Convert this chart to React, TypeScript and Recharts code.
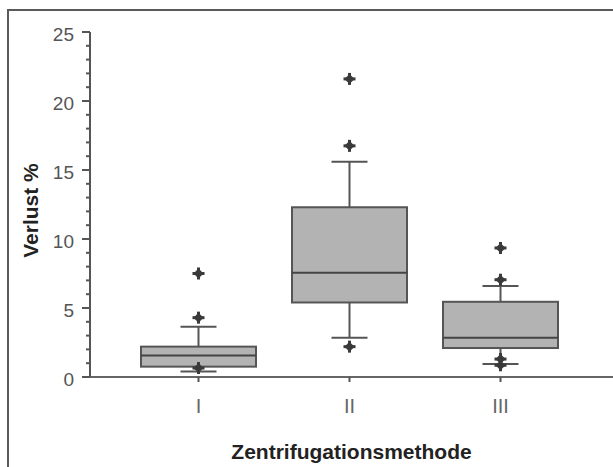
import { ComposedChart, Bar, Line, XAxis, YAxis } from "recharts";

const categories = ["I", "II", "III"];
const whiskerLow = [0.4, 2.85, 0.95];
const q1 = [0.75, 5.4, 2.1];
const median = [1.55, 7.55, 2.85];
const q3 = [2.2, 12.3, 5.45];
const whiskerHigh = [3.65, 15.6, 6.6];
const outliers = [
  [7.5, 4.3, 0.65],
  [21.6, 16.75, 2.2],
  [9.35, 7.05, 1.3, 0.85],
];
const yTicks = [0, 1, 2, 3, 4, 5, 6, 7, 8, 9, 10, 11, 12, 13, 14, 15, 16, 17, 18, 19, 20, 21, 22, 23, 24, 25];

const FONT = '"Liberation Sans", Arial, Helvetica, sans-serif';
const LINE = "#555";

const rows = categories.map((name, i) => ({
  name,
  range: [whiskerLow[i], whiskerHigh[i]],
  lo: whiskerLow[i],
  hi: whiskerHigh[i],
  q1: q1[i],
  median: median[i],
  q3: q3[i],
  o1: outliers[i][0] ?? null,
  o2: outliers[i][1] ?? null,
  o3: outliers[i][2] ?? null,
  o4: outliers[i][3] ?? null,
}));

function BoxShape(props: any) {
  const { x, y, width, height, payload } = props;
  const top = Math.min(y, y + height);
  const h = Math.abs(height);
  const span = payload.hi - payload.lo;
  const toY = (v: number) => top + ((payload.hi - v) / span) * h;
  const cx = x + width / 2;
  const cap = 18;
  return (
    <g>
      <line x1={cx} x2={cx} y1={toY(payload.hi)} y2={toY(payload.q3)} stroke={LINE} strokeWidth={2} />
      <line x1={cx} x2={cx} y1={toY(payload.q1)} y2={toY(payload.lo)} stroke={LINE} strokeWidth={2} />
      <line x1={cx - cap} x2={cx + cap} y1={toY(payload.hi)} y2={toY(payload.hi)} stroke={LINE} strokeWidth={2} />
      <line x1={cx - cap} x2={cx + cap} y1={toY(payload.lo)} y2={toY(payload.lo)} stroke={LINE} strokeWidth={2} />
      <rect
        x={x}
        y={toY(payload.q3)}
        width={width}
        height={toY(payload.q1) - toY(payload.q3)}
        fill="#b3b3b3"
        stroke={LINE}
        strokeWidth={2}
      />
      <line x1={x} x2={x + width} y1={toY(payload.median)} y2={toY(payload.median)} stroke="#444" strokeWidth={2} />
    </g>
  );
}

function OutlierDot(props: any) {
  const { cx, cy, value, index } = props;
  if (cy == null || value == null || Number.isNaN(cy)) return <g key={index} />;
  return (
    <g key={index}>
      <path d={`M${cx},${cy - 5} L${cx + 5},${cy} L${cx},${cy + 5} L${cx - 5},${cy} Z`} fill="#3a3a3a" />
      <rect x={cx - 1.5} y={cy - 6} width={3} height={12} fill="#3a3a3a" />
      <rect x={cx - 6} y={cy - 1.5} width={12} height={3} fill="#3a3a3a" />
    </g>
  );
}

function YTick(props: any) {
  const { x, y, payload } = props;
  const major = payload.value % 5 === 0;
  return (
    <g>
      <line x1={x - (major ? 8 : 4)} x2={x} y1={y} y2={y} stroke={LINE} strokeWidth={2} />
      {major && (
        <text x={x - 16} y={y} dy={9} textAnchor="end" fill="#555" fontSize={19} fontFamily={FONT}>
          {payload.value}
        </text>
      )}
    </g>
  );
}

function XTick(props: any) {
  const { x, y, payload } = props;
  return (
    <text x={x} y={y} dy={29} textAnchor="middle" fill="#666" fontSize={20} fontFamily={FONT}>
      {payload.value}
    </text>
  );
}

export default function App() {
  return (
    <div style={{ position: "absolute", left: 0, top: 0, width: 613, height: 467, background: "#fff", overflow: "hidden" }}>
      <div
        style={{
          position: "absolute",
          left: 7,
          top: 9,
          width: 620,
          height: 470,
          borderTop: "2px solid #5a5a5a",
          borderLeft: "2px solid #5a5a5a",
        }}
      />
      <div style={{ position: "absolute", left: 0, top: 0 }}>
        <ComposedChart width={613} height={467} data={rows} margin={{ top: 32, right: 0, bottom: 30, left: 30 }}>
          <XAxis
            dataKey="name"
            height={60}
            padding={{ left: 33, right: 37 }}
            axisLine={{ stroke: "#666", strokeWidth: 2 }}
            tickLine={{ stroke: "#555", strokeWidth: 2 }}
            tickSize={5}
            tickMargin={2}
            tick={<XTick />}
            label={{
              content: (p: any) => {
                const vb = p.viewBox || { x: 90, y: 377, width: 523 };
                return (
                  <text
                    x={vb.x + vb.width / 2}
                    y={vb.y + 82}
                    textAnchor="middle"
                    fontSize={21}
                    fontWeight="bold"
                    fill="#222"
                    fontFamily={FONT}
                  >
                    Zentrifugationsmethode
                  </text>
                );
              },
            }}
          />
          <YAxis
            type="number"
            domain={[0, 25]}
            ticks={yTicks}
            interval={0}
            width={60}
            axisLine={{ stroke: LINE, strokeWidth: 2 }}
            tickLine={false}
            tickSize={0}
            tickMargin={0}
            tick={<YTick />}
            label={{
              content: (p: any) => {
                const vb = p.viewBox || { x: 30, y: 32, width: 60, height: 345 };
                const cy = vb.y + vb.height / 2 + 6;
                return (
                  <text
                    x={38}
                    y={cy}
                    transform={`rotate(-90 38 ${cy})`}
                    textAnchor="middle"
                    fontSize={21}
                    fontWeight="bold"
                    fill="#222"
                    fontFamily={FONT}
                  >
                    Verlust %
                  </text>
                );
              },
            }}
          />
          <Bar dataKey="range" barSize={115} shape={<BoxShape />} isAnimationActive={false} />
          {["o1", "o2", "o3", "o4"].map((k) => (
            <Line
              key={k}
              dataKey={k}
              stroke="none"
              connectNulls={false}
              dot={(p: any) => <OutlierDot {...p} key={`${k}-${p.index}`} />}
              activeDot={false}
              isAnimationActive={false}
            />
          ))}
        </ComposedChart>
      </div>
    </div>
  );
}
